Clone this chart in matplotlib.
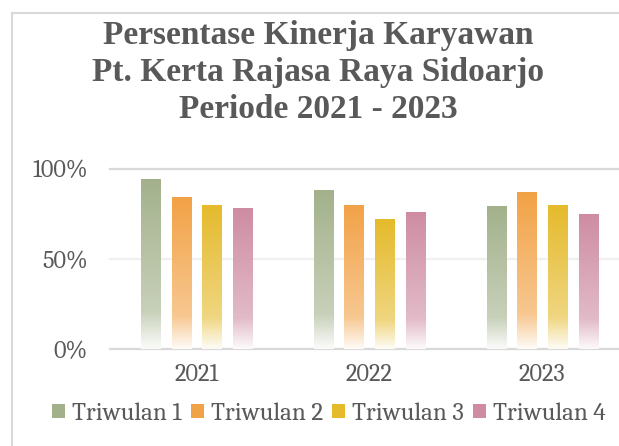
import numpy as np
import matplotlib
matplotlib.use("Agg")
import matplotlib.pyplot as plt
from matplotlib import font_manager
from matplotlib.colors import to_rgb
from matplotlib.patches import Rectangle

# data
years = ["2021", "2022", "2023"]
series = ["Triwulan 1", "Triwulan 2", "Triwulan 3", "Triwulan 4"]
triwulan_1 = [0.94, 0.88, 0.79]
triwulan_2 = [0.84, 0.80, 0.87]
triwulan_3 = [0.80, 0.72, 0.80]
triwulan_4 = [0.78, 0.76, 0.75]
values = [triwulan_1, triwulan_2, triwulan_3, triwulan_4]
colors = ["#A3B18B", "#F2A246", "#E5BA2B", "#CE8CA3"]

title_lines = ["Persentase Kinerja Karyawan",
               "Pt. Kerta Rajasa Raya Sidoarjo",
               "Periode 2021 - 2023"]

grey = "#595959"
installed = {f.name for f in font_manager.fontManager.ttflist}
body = "Caladea" if "Caladea" in installed else "Noto Serif"
title_font = "Liberation Serif"

W, H = 619, 446
fig = plt.figure(figsize=(W / 100, H / 100), dpi=100)
ax = fig.add_axes([110 / W, 97 / H, 1 - 110 / W, (349 - 168.5) / H])

x = np.arange(len(years))
pitch = 0.1775
width = 0.11


def gradient_img(color):
    # colour fraction along the bar: faded at the bottom, solid at the top
    t = np.linspace(0, 1, 200)
    f = np.interp(t, [0, 0.22, 1], [0.04, 0.6, 1.0])
    c = np.array(to_rgb(color))
    rgb = 1 - f[:, None] * (1 - c[None, :])
    return rgb[:, None, :]


for i, (vals, col) in enumerate(zip(values, colors)):
    bars = ax.bar(x + (i - 1.5) * pitch, vals, width, color="none",
                  edgecolor="none", label=series[i], zorder=3)
    img = gradient_img(col)
    for b in bars:
        x0, y0 = b.get_x(), b.get_y()
        im = ax.imshow(img, extent=[x0, x0 + b.get_width(), y0, y0 + b.get_height()],
                       origin="lower", aspect="auto", zorder=3, interpolation="bilinear")
        im.set_clip_path(b)

ax.set_xlim(-0.5, (W - 196) / 173)
ax.set_ylim(0, 1)
ax.set_yticks([0, 0.5, 1.0])
ax.set_yticklabels(["0%", "50%", "100%"])
ax.set_xticks(x)
ax.set_xticklabels(years)

for s in ax.spines.values():
    s.set_visible(False)

# horizontal lines: 0% and 100% darker, 50% light
for yv, c in [(0, "#d9d9d9"), (0.5, "#f0f0f0"), (1.0, "#d9d9d9")]:
    ax.axhline(yv, color=c, lw=1.6, zorder=1, clip_on=False)

ax.tick_params(axis="both", length=0, labelsize=17.5, labelcolor=grey)
ax.tick_params(axis="y", pad=16)
ax.tick_params(axis="x", pad=10)
for lab in ax.get_xticklabels() + ax.get_yticklabels():
    lab.set_family(body)

# title, three centred lines
for line, base in zip(title_lines, [44, 81.5, 118]):
    fig.text(318 / W, 1 - base / H, line, ha="center", va="baseline",
             fontsize=24, fontweight="bold", color=grey, family=title_font)

handles = [Rectangle((0, 0), 1, 1, facecolor=c) for c in colors]
fig.legend(handles, series, loc="center", bbox_to_anchor=(329 / W, 1 - 414 / H),
           ncol=4, frameon=False, prop={"family": body, "size": 18},
           labelcolor=grey, handlelength=0.52, handleheight=0.48,
           handletextpad=0.28, columnspacing=0.36, borderaxespad=0, borderpad=0)

# chart frame (cut at right and bottom in the reference)
fig.add_artist(Rectangle((12 / W, -0.1), 1.2, 1 - 13 / H + 0.1, transform=fig.transFigure,
                         fill=False, edgecolor="#d9d9d9", lw=1.5))

fig.savefig("out.png", dpi=100, facecolor="white")
